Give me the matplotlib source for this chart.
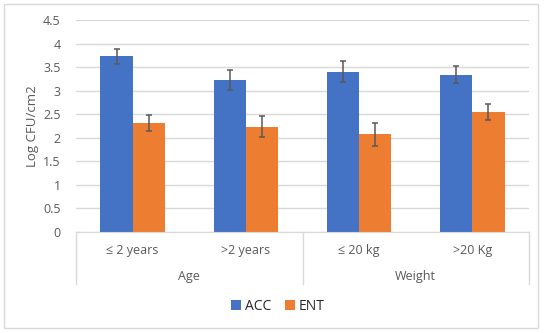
import numpy as np
import matplotlib
matplotlib.use("Agg")
import matplotlib.pyplot as plt
from matplotlib.patches import Rectangle
from matplotlib.transforms import blended_transform_factory

categories = ["≤ 2 years", ">2 years", "≤ 20 kg", ">20 Kg"]
groups = ["Age", "Weight"]
acc = [3.73, 3.23, 3.41, 3.34]
acc_err = [0.17, 0.21, 0.22, 0.18]
ent = [2.32, 2.24, 2.07, 2.55]
ent_err = [0.17, 0.22, 0.24, 0.17]

plt.rcParams['font.family'] = ['Open Sans', 'DejaVu Sans']
GRAY = "#595959"
FS = 9

fig = plt.figure(figsize=(5.5, 3.33), dpi=100)
ax = fig.add_axes([0.138, 0.304, 0.824, 0.635])

x = np.arange(len(categories))
w = 0.283
ax.bar(x - w / 2, acc, w, color="#4472C4", label="ACC", zorder=2)
ax.bar(x + w / 2, ent, w, color="#ED7D31", label="ENT", zorder=2)
ax.errorbar(x - w / 2, acc, yerr=acc_err, fmt="none", ecolor=GRAY,
            capsize=2.5, elinewidth=1.1, capthick=1.1, zorder=3)
ax.errorbar(x + w / 2, ent, yerr=ent_err, fmt="none", ecolor=GRAY,
            capsize=2.5, elinewidth=1.1, capthick=1.1, zorder=3)

ax.set_xlim(-0.5, len(categories) - 0.5)
ax.set_ylim(0, 4.5)
ax.set_yticks(np.arange(0, 4.51, 0.5))
ax.set_yticklabels([f"{v:g}" for v in np.arange(0, 4.51, 0.5)])
ax.yaxis.grid(True, color="#d9d9d9", linewidth=1, zorder=0)
ax.set_axisbelow(True)
for s in ["top", "right", "left"]:
    ax.spines[s].set_visible(False)
ax.spines["bottom"].set_color("#d9d9d9")
ax.tick_params(axis="y", length=0, labelsize=FS, labelcolor=GRAY, pad=11)
ax.set_xticks([])
ax.set_ylabel("Log CFU/cm2", fontsize=9.5, color=GRAY, labelpad=3)

# multi-level category axis
trans = blended_transform_factory(ax.transData, ax.transAxes)
for xi, lab in zip(x, categories):
    ax.text(xi, -0.087, lab, transform=trans, ha="center", va="center",
            fontsize=FS, color=GRAY)
for gi, g in enumerate(groups):
    ax.text(2 * gi + 0.5, -0.21, g, transform=trans, ha="center", va="center",
            fontsize=FS, color=GRAY)
for xs in [-0.5, 1.5, 3.5]:
    ax.plot([xs, xs], [0, -0.248], transform=trans, color="#d9d9d9",
            linewidth=1, clip_on=False)

fig.legend(loc="center", bbox_to_anchor=(0.505, 1 - 306 / 333), ncol=2,
           frameon=False, fontsize=10, handlelength=0.7, handleheight=0.7,
           handletextpad=0.3, columnspacing=1.0, labelcolor="#262626")

fig.patches.append(Rectangle((4 / 550, 5 / 333), 534 / 550, 324 / 333,
                             transform=fig.transFigure, fill=False,
                             edgecolor="#d9d9d9", linewidth=1))

fig.savefig("out.png", dpi=100, facecolor="white")
